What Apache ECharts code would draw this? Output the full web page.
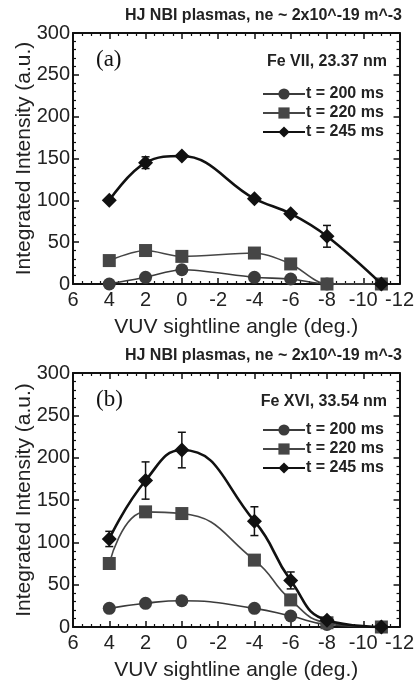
<!DOCTYPE html>
<html>
<head>
    <meta charset="utf-8">
    <title>VUV sightline profiles</title>
    <script src="https://cdn.jsdelivr.net/npm/echarts@6/dist/echarts.min.js"></script>
    <style>
        html, body { margin: 0; padding: 0; background: #fff; }
        #main { width: 417px; height: 682px; }
    </style>
</head>
<body>
<div id="main"></div>
<script type="text/javascript">
    // sightline angles (deg.)
    var angles = [4, 2, 0, -4, -6, -8, -11];
    var names = ['t = 200 ms', 't = 220 ms', 't = 245 ms'];

    // (a) Fe VII, 23.37 nm
    var a200 = [0, 8, 17, 8, 6, 0, 0];
    var a220 = [28, 40, 33, 37, 24, 0, 0];
    var a245 = [100, 145, 153, 102, 84, 57, 0];
    var a245err = [0, 7, 0, 0, 0, 13, 0];

    // (b) Fe XVI, 33.54 nm
    var b200 = [22, 28, 31, 22, 13, 3, 0];
    var b220 = [75, 136, 134, 79, 32, 5, 0];
    var b245 = [104, 173, 209, 125, 55, 8, 0];
    var b245err = [9, 22, 21, 17, 10, 0, 0];

    var chartDom = document.getElementById('main');
    var myChart = echarts.init(chartDom);
    var option;

    var font = 'Liberation Sans, Arial, sans-serif';

    function pairs(vals) {
        return angles.map(function (a, i) { return [a, vals[i]]; });
    }
    function errData(vals, errs) {
        var out = [];
        angles.forEach(function (a, i) {
            if (errs[i] > 0) out.push([a, vals[i] - errs[i], vals[i] + errs[i]]);
        });
        return out;
    }
    function errRender(params, api) {
        var x = api.value(0);
        var top = api.coord([x, api.value(2)]);
        var bot = api.coord([x, api.value(1)]);
        var w = 4;
        var st = { stroke: '#111', lineWidth: 1.5 };
        return {
            type: 'group',
            children: [
                { type: 'line', shape: { x1: top[0], y1: top[1], x2: bot[0], y2: bot[1] }, style: st },
                { type: 'line', shape: { x1: top[0] - w, y1: top[1], x2: top[0] + w, y2: top[1] }, style: st },
                { type: 'line', shape: { x1: bot[0] - w, y1: bot[1], x2: bot[0] + w, y2: bot[1] }, style: st }
            ]
        };
    }

    var grids = [
        { left: 73, top: 33, width: 329, height: 251 },
        { left: 73, top: 373, width: 329, height: 255 }
    ];

    var xAxes = [], yAxes = [];
    grids.forEach(function (g, gi) {
        // bottom x axis with labels
        xAxes.push({
            gridIndex: gi, type: 'value', min: -12, max: 6, interval: 2, inverse: true,
            name: 'VUV sightline angle (deg.)', nameLocation: 'middle', nameGap: 33,
            nameMoveOverlap: false,
            nameTextStyle: { fontFamily: font, fontSize: 21, color: '#222' },
            axisLine: { show: true, onZero: false, lineStyle: { color: '#111', width: 2 } },
            axisTick: { inside: true, length: 6, lineStyle: { color: '#111', width: 1.5 } },
            minorTick: { show: true, splitNumber: 4, length: 3, lineStyle: { color: '#111', width: 1.2 } },
            axisLabel: { fontFamily: font, fontSize: 20, color: '#222', margin: 6 },
            splitLine: { show: false }
        });
        // top x axis, ticks only
        xAxes.push({
            gridIndex: gi, type: 'value', position: 'top', min: -12, max: 6, interval: 2, inverse: true,
            axisLine: { show: true, onZero: false, lineStyle: { color: '#111', width: 2 } },
            axisTick: { inside: true, length: 6, lineStyle: { color: '#111', width: 1.5 } },
            minorTick: { show: true, splitNumber: 4, length: 3, lineStyle: { color: '#111', width: 1.2 } },
            axisLabel: { show: false },
            splitLine: { show: false }
        });
        yAxes.push({
            gridIndex: gi, type: 'value', min: 0, max: 300, interval: 50,
            name: 'Integrated Intensity (a.u.)', nameLocation: 'middle', nameGap: 38,
            nameMoveOverlap: false,
            nameTextStyle: { fontFamily: font, fontSize: 21, color: '#222' },
            axisLine: { show: true, onZero: false, lineStyle: { color: '#111', width: 2 } },
            axisTick: { inside: true, length: 6, lineStyle: { color: '#111', width: 1.5 } },
            minorTick: { show: true, splitNumber: 5, length: 3, lineStyle: { color: '#111', width: 1.2 } },
            axisLabel: { fontFamily: font, fontSize: 20, color: '#222', margin: 3 },
            splitLine: { show: false }
        });
        yAxes.push({
            gridIndex: gi, type: 'value', position: 'right', min: 0, max: 300, interval: 50,
            axisLine: { show: true, onZero: false, lineStyle: { color: '#111', width: 2 } },
            axisTick: { inside: true, length: 6, lineStyle: { color: '#111', width: 1.5 } },
            minorTick: { show: true, splitNumber: 5, length: 3, lineStyle: { color: '#111', width: 1.2 } },
            axisLabel: { show: false },
            splitLine: { show: false }
        });
    });

    function lineSeries(name, gi, vals, symbol, color, width, smooth, z) {
        return {
            type: 'line', name: name, xAxisIndex: gi * 2, yAxisIndex: gi * 2,
            data: pairs(vals), symbol: symbol, symbolSize: symbol === 'diamond' ? 15 : 13,
            smooth: smooth, showAllSymbol: true, z: z,
            lineStyle: { color: color, width: width },
            itemStyle: { color: color, borderWidth: 0 },
            emphasis: { disabled: true },
            animation: false
        };
    }

    var series = [
        lineSeries(names[0], 0, a200, 'circle', '#3b3b3b', 1.6, 0.3, 3),
        lineSeries(names[1], 0, a220, 'rect', '#464646', 1.6, 0.3, 4),
        lineSeries(names[2], 0, a245, 'diamond', '#111', 2.6, 0.4, 5),
        { type: 'custom', xAxisIndex: 0, yAxisIndex: 0, renderItem: errRender,
          data: errData(a245, a245err), z: 6, silent: true, animation: false },
        lineSeries(names[0], 1, b200, 'circle', '#3b3b3b', 1.6, true, 3),
        lineSeries(names[1], 1, b220, 'rect', '#464646', 1.6, true, 4),
        lineSeries(names[2], 1, b245, 'diamond', '#111', 2.6, true, 5),
        { type: 'custom', xAxisIndex: 2, yAxisIndex: 2, renderItem: errRender,
          data: errData(b245, b245err), z: 6, silent: true, animation: false }
    ];

    function legendAt(top) {
        return {
            data: names, left: 257, top: top, orient: 'vertical',
            itemWidth: 42, itemHeight: 14, itemGap: 3, selectedMode: false,
            textStyle: { fontFamily: font, fontSize: 16, fontWeight: 'bold', color: '#222', padding: [0, 0, 0, -4] }
        };
    }

    function texts(y0, panel, line) {
        return [
            { type: 'text', right: 15, top: y0 + 8, style: { text: 'HJ NBI plasmas, ne ~ 2x10^-19 m^-3',
                font: 'bold 16px ' + font, fill: '#222' } },
            { type: 'text', left: 96, top: y0 + 48, style: { text: panel,
                font: '23px Liberation Serif, Times New Roman, serif', fill: '#111' } },
            { type: 'text', right: 30, top: y0 + 54, style: { text: line,
                font: 'bold 16px ' + font, fill: '#222' } }
        ];
    }

    option = {
        backgroundColor: '#fff',
        animation: false,
        grid: grids,
        xAxis: xAxes,
        yAxis: yAxes,
        legend: [legendAt(81), legendAt(417)],
        graphic: texts(0, '(a)', 'Fe VII, 23.37 nm').concat(texts(340, '(b)', 'Fe XVI, 33.54 nm')),
        series: series
    };

    option && myChart.setOption(option);
</script>
</body>
</html>
